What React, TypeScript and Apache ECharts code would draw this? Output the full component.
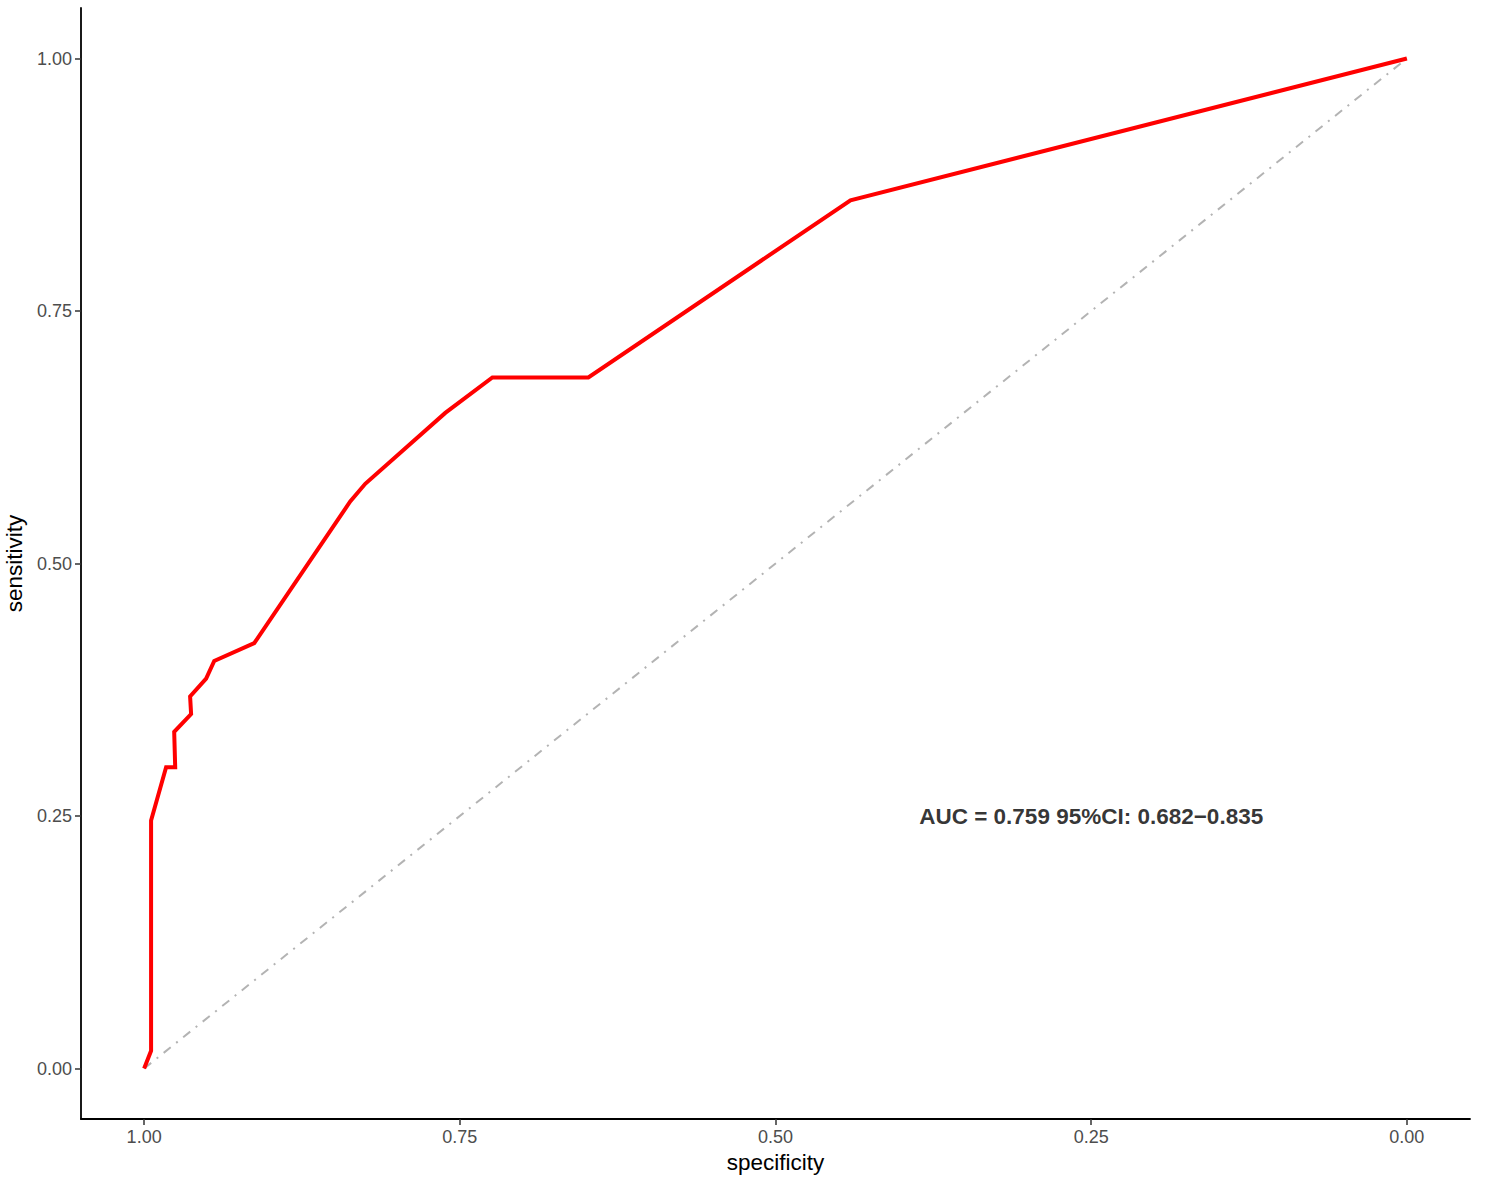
import React, { useEffect, useRef } from "react";
import * as echarts from "echarts";

const specificity = [1.0, 0.9945, 0.9945, 0.9826, 0.9754, 0.9762, 0.9628, 0.9636, 0.9509, 0.9445, 0.9128, 0.8368, 0.8249, 0.7615, 0.7242, 0.6482, 0.4406, 0.0];
const sensitivity = [0.0, 0.0175, 0.2456, 0.2982, 0.2982, 0.3333, 0.3509, 0.3684, 0.386, 0.4035, 0.4211, 0.5614, 0.5789, 0.6491, 0.6842, 0.6842, 0.8596, 1.0];
const diagonal = [[1, 0], [0, 1]];
const tickValues = [0, 0.25, 0.5, 0.75, 1];
const annotationText = "AUC = 0.759 95%CI: 0.682\u22120.835";
const annotationPos = [0.25, 0.25];

export default function App() {
  const ref = useRef<HTMLDivElement>(null);
  useEffect(() => {
    document.body.style.margin = "0";
    const chart = echarts.init(ref.current!, null, { renderer: "svg" });
    const font = "Liberation Sans, Arial, Helvetica, sans-serif";
    const axisCommon = {
      type: "value",
      min: -0.05,
      max: 1.05,
      nameLocation: "middle",
      nameTextStyle: { fontFamily: font, fontSize: 22.5, color: "#000" },
      axisLine: { show: true, onZero: false, lineStyle: { color: "#000", width: 1.8 } },
      axisTick: { show: true, customValues: tickValues, length: 6, lineStyle: { color: "#333", width: 1.5 } },
      axisLabel: {
        customValues: tickValues,
        formatter: (v: number) => v.toFixed(2),
        fontFamily: font,
        fontSize: 18,
        color: "#4d4d4d",
        margin: 9,
      },
      splitLine: { show: false },
    };
    chart.setOption({
      animation: false,
      backgroundColor: "#fff",
      grid: { left: 81, top: 8, right: 15, bottom: 61, containLabel: false, outerBoundsMode: "none" },
      xAxis: { ...axisCommon, inverse: true, name: "specificity", nameGap: 32 },
      yAxis: { ...axisCommon, name: "sensitivity", nameGap: 48 },
      series: [
        {
          type: "line",
          data: diagonal,
          symbol: "none",
          silent: true,
          lineStyle: { color: "#b3b3b3", width: 2, type: [9, 7, 2, 7] },
          z: 1,
        },
        {
          type: "line",
          data: specificity.map((s, i) => [s, sensitivity[i]]),
          symbol: "none",
          lineStyle: { color: "#ff0000", width: 4, join: "miter" },
          z: 2,
        },
        {
          type: "scatter",
          data: [annotationPos],
          symbolSize: 1,
          itemStyle: { color: "rgba(0,0,0,0)" },
          label: {
            show: true,
            position: "inside",
            formatter: annotationText,
            fontFamily: font,
            fontSize: 22.5,
            fontWeight: "bold",
            color: "#000",
          },
          z: 3,
        },
      ],
    });
    return () => chart.dispose();
  }, []);
  return <div ref={ref} style={{ width: 1485, height: 1180 }} />;
}
